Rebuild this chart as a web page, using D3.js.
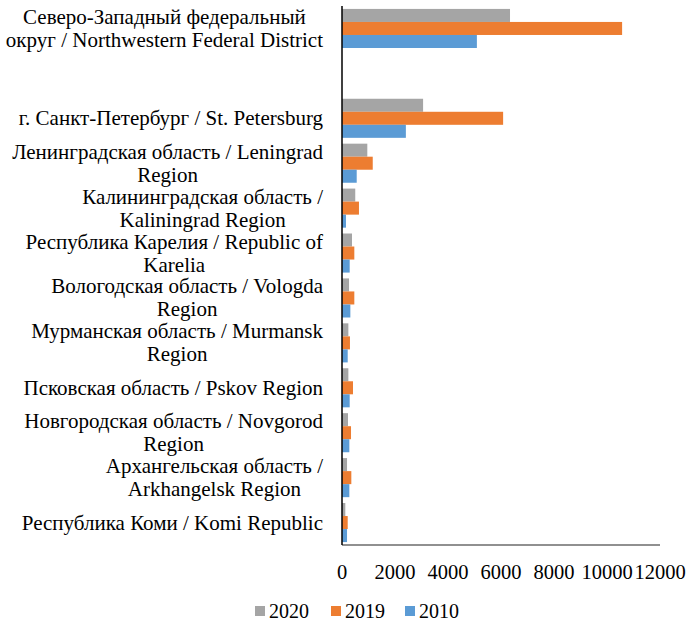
<!DOCTYPE html>
<html>
<head>
<meta charset="utf-8">
<script src="https://cdn.jsdelivr.net/npm/d3@7"></script>
<style>
body { margin: 0; background: #fff; }
</style>
</head>
<body>
<div id="chart"></div>
<script>
// categories from top to bottom, each label split into its lines
var regions = [
  ["Северо-Западный федеральный", "округ / Northwestern Federal District"],
  [],
  ["г. Санкт-Петербург / St. Petersburg"],
  ["Ленинградская область / Leningrad", "Region"],
  ["Калининградская область /", "Kaliningrad Region"],
  ["Республика Карелия / Republic of", "Karelia"],
  ["Вологодская область / Vologda", "Region"],
  ["Мурманская область / Murmansk", "Region"],
  ["Псковская область / Pskov Region"],
  ["Новгородская область / Novgorod", "Region"],
  ["Архангельская область /", "Arkhangelsk Region"],
  ["Республика Коми / Komi Republic"]
];
var years = ["2020", "2019", "2010"];
var colors = ["#A5A5A5", "#ED7D31", "#5B9BD5"];
var v2020 = [6340, null, 3060, 955, 500, 377, 265, 240, 240, 226, 190, 125];
var v2019 = [10570, null, 6080, 1160, 640, 465, 465, 300, 415, 340, 352, 215];
var v2010 = [5090, null, 2410, 555, 150, 290, 315, 215, 290, 277, 277, 190];
var xTicks = [0, 2000, 4000, 6000, 8000, 10000, 12000];

function drawChart() {
  var series = [v2020, v2019, v2010];
  var width = 688, height = 623;
  var plotLeft = 342, plotRight = 660, plotTop = 6, plotBottom = 545;
  var fontFamily = "'Liberation Serif', 'DejaVu Serif', serif";

  var svg = d3.select("#chart").append("svg")
    .attr("width", width)
    .attr("height", height)
    .attr("font-family", fontFamily);

  var x = d3.scaleLinear().domain([0, 12000]).range([plotLeft, plotRight]);

  var y = d3.scaleBand()
    .domain(d3.range(regions.length))
    .range([plotTop, plotBottom])
    .paddingInner(0.13)
    .paddingOuter(0.065);

  var yInner = d3.scaleBand()
    .domain(years)
    .range([0, y.bandwidth()]);

  // bars
  years.forEach(function(yr, k) {
    svg.append("g").selectAll("rect")
      .data(series[k].map(function(v, i) { return {i: i, v: v}; }).filter(function(d) { return d.v != null; }))
      .enter()
      .append("rect")
      .attr("x", x(0))
      .attr("y", function(d) { return y(d.i) + yInner(yr); })
      .attr("width", function(d) { return x(d.v) - x(0); })
      .attr("height", yInner.bandwidth())
      .attr("fill", colors[k]);
  });

  // axis lines
  svg.append("line")
    .attr("x1", plotLeft).attr("x2", plotRight)
    .attr("y1", plotBottom).attr("y2", plotBottom)
    .attr("stroke", "#222").attr("stroke-width", 1.2);
  svg.append("line")
    .attr("x1", plotLeft).attr("x2", plotLeft)
    .attr("y1", plotTop).attr("y2", plotBottom)
    .attr("stroke", "#000").attr("stroke-width", 1.5);

  // x tick labels
  svg.append("g").selectAll("text")
    .data(xTicks)
    .enter()
    .append("text")
    .attr("x", function(d) { return x(d); })
    .attr("y", 579)
    .attr("text-anchor", "middle")
    .style("font-family", fontFamily)
    .style("font-size", "20.5px")
    .text(function(d) { return d; });

  // category labels: block right-aligned, lines centred on each other
  var labelRight = 323, lineH = 23;
  regions.forEach(function(lines, i) {
    if (!lines.length) return;
    var g = svg.append("g");
    var texts = g.selectAll("text")
      .data(lines)
      .enter()
      .append("text")
      .style("font-family", fontFamily)
      .style("font-size", "21px")
      .text(function(d) { return d; });
    var maxW = d3.max(texts.nodes(), function(n) { return n.getComputedTextLength(); });
    var cy = y(i) + y.bandwidth() / 2;
    texts
      .attr("x", labelRight - maxW / 2)
      .attr("text-anchor", "middle")
      .attr("y", function(d, j) { return cy + (j - (lines.length - 1) / 2) * lineH + 7; });
  });

  // legend
  var legend = svg.append("g");
  var legendX = [255, 331, 405];
  years.forEach(function(yr, k) {
    legend.append("rect")
      .attr("x", legendX[k]).attr("y", 606)
      .attr("width", 10).attr("height", 10)
      .attr("fill", colors[k]);
    legend.append("text")
      .attr("x", legendX[k] + 14).attr("y", 618)
      .style("font-family", fontFamily)
      .style("font-size", "20px")
      .text(yr);
  });
}

drawChart();
</script>
</body>
</html>
